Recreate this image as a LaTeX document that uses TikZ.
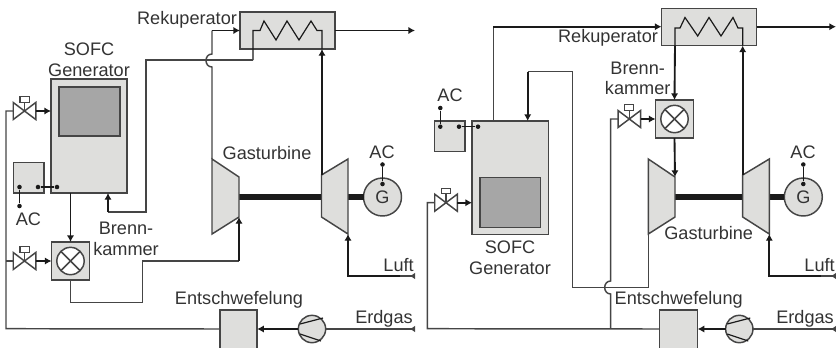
\documentclass[tikz,border=0pt]{standalone}
\usepackage{fontspec}
\setmainfont{Liberation Sans}
\usetikzlibrary{arrows.meta}

\definecolor{partgray}{HTML}{DEDEDC}
\definecolor{coregray}{HTML}{A6A6A6}
\definecolor{pipegray}{HTML}{454545}
\definecolor{flowblack}{HTML}{1A1A1A}
\definecolor{textgray}{HTML}{333333}

\tikzset{
    pipe/.style={draw=pipegray, line width=1.1pt},
    flow/.style={draw=flowblack, line width=1.4pt},
    tip/.style={-{Latex[length=5pt,width=5.5pt]}},
    endtip/.style={{Latex[reversed,length=4pt,width=5pt]}-},
    part/.style={draw=pipegray, fill=partgray, line width=1.1pt, inner sep=0pt, outer sep=0pt},
    core/.style={part, fill=coregray},
    dot/.style={circle, fill=flowblack, inner sep=0pt, minimum size=3.4pt},
    lbl/.style={text=textgray, inner sep=0pt, align=center, font=\fontsize{13.6}{15.5}\selectfont},
    valvebody/.style={inner sep=0pt, outer sep=0pt, minimum width=16.9pt, minimum height=12.75pt},
    valvecap/.style={part, fill=white, line width=0.8pt, minimum width=6.8pt, minimum height=4pt},
    wheel/.style={part, circle, minimum size=20.5pt},
    gen/.style={part, circle, minimum size=28.5pt, lbl, text=textgray},
}

% valve with its cap
\newcommand{\valve}[2]{
    \node[valvebody] (#1) at (#2) {};
    \draw[pipe, fill=white] (#1.north west) -- (#1.south east) -- (#1.north east) -- (#1.south west) -- cycle;
    \node[valvecap] (#1c) at ([yshift=8.6pt]#1.center) {};
    \draw[pipe, line width=0.8pt] (#1.center) -- (#1c.south);
}
% burner chamber: box with crossed circle
\newcommand{\burner}[2]{
    \node[part, minimum width=28.5pt, minimum height=28.5pt] (#1) at (#2) {};
    \node[part, fill=white, circle, minimum size=20.5pt] (#1o) at (#1.center) {};
    \draw[pipe] (#1o.north west) -- (#1o.south east);
    \draw[pipe] (#1o.north east) -- (#1o.south west);
}
% gas compressor wheel
\newcommand{\wheelc}[2]{
    \node[wheel] (#1) at (#2) {};
    \draw[flow, line width=0.9pt] ([shift={(-12,-5)}]#1.center) -- ([shift={(11,-11)}]#1.center);
    \draw[flow, line width=0.9pt] ([shift={(-12,5)}]#1.center) -- ([shift={(9,12)}]#1.center);
}

\begin{document}
\begin{tikzpicture}[x=0.75pt,y=-0.75pt]
    \clip (0,0) rectangle (836,347);

    %%% left plant %%%
    % Define boxes
    \node[part, minimum width=71.25pt, minimum height=27.75pt] (rekA) at (287.5,30.5) {};
    \node[part, minimum width=57pt, minimum height=85.5pt] (sofcA) at (89,136) {};
    \node[core, minimum width=45.75pt, minimum height=36.75pt] (coreA) at (89.5,111.5) {};
    \node[part, minimum width=23pt, minimum height=23pt] (acboxA) at (28.75,177.75) {};
    \node[part, minimum width=28pt, minimum height=37.5pt] (desA) at (238.5,335) {};
    \burner{burnA}{70.5,261}
    \valve{valveAa}{24.5,111}
    \valve{valveAb}{24.5,261}
    \wheelc{wheelA}{312,329}

    % Turbine, compressor and generator
    \coordinate (turbAa) at (212,159);
    \coordinate (turbAb) at (239,177);
    \coordinate (turbAc) at (239,217);
    \coordinate (turbAd) at (212,234);
    \coordinate (compAa) at (348,159);
    \coordinate (compAb) at (321.5,175);
    \coordinate (compAc) at (321.5,217);
    \coordinate (compAd) at (348,234);
    \node[gen] (genA) at (382.5,197) {G};
    \draw[flow, line width=4.5pt] (239,197) -- (321.5,197);
    \draw[flow, line width=4.5pt] (348,197) -- (genA.west);
    \draw[part] (turbAa) -- (turbAb) -- (turbAc) -- (turbAd) -- cycle;
    \draw[part] (compAa) -- (compAb) -- (compAc) -- (compAd) -- cycle;

    % Recuperator coil
    \coordinate (coilAa) at (253,60);
    \coordinate (coilAb) at (322,49);
    \draw[pipe, line width=0.9pt, draw=flowblack] (coilAa) -- (253,30.5) -- (260,30.5) -- (264,21) -- (276,40) -- (287,21)
        -- (299,40) -- (311,21) -- (317,30.5) -- (322,30.5) -- (coilAb);

    % Draw pipes
    \coordinate (jumpAa) at (212,67);
    \coordinate (jumpAb) at (212,54);
    \coordinate (jumpAc) at (212,30.5);
    \draw[pipe] (turbAa) -- (jumpAa) .. controls +(-8,0) and +(-8,0) .. (jumpAb) -- (jumpAc);
    \draw[flow, tip] (jumpAc) -- (rekA.west);
    \draw[pipe] (coilAa) -- (146,60) -- (146,212) -- (108,212);
    \draw[flow, tip] (108,212) -- (108,193);
    \coordinate (outA) at (415,30.5);
    \draw[flow, tip] (rekA.east) -- (outA);
    \draw[flow, tip] (322,175) -- (coilAb);
    \draw[flow, tip] (valveAa.east) -- (sofcA.west |- valveAa.east);
    \draw[flow, tip] (valveAb.east) -- (burnA.west);
    \draw[flow, tip] (sofcA.south -| burnA.north) -- (burnA.north);
    \draw[pipe] (burnA.south) -- (70.5,302.7) -- (142.5,302.7) -- (142.5,261) -- (239,261);
    \draw[flow, tip] (239,261) -- (turbAc);
    \draw[pipe] (valveAa.west) -- (6,111) -- (6,328.7) -- (desA.west |- wheelA.west);
    \draw[pipe] (valveAb.west) -- (6,261);
    \draw[flow, tip] (wheelA.west) -- (desA.east |- wheelA.west);
    \coordinate (gasA) at (415,329);
    \draw[pipe, endtip] (gasA) -- (wheelA.east);
    \coordinate (airA) at (415,276);
    \draw[pipe, endtip] (airA) -- (400,276);
    \draw[flow, tip] (400,276) -- (348,276) -- (compAd);

    % AC connections
    \node[dot] (dotAa) at (19.5,187) {};
    \node[dot] (dotAb) at (38,187) {};
    \node[dot] (dotAc) at (57,187) {};
    \node[dot] (dotAd) at (19.5,206) {};
    \node[dot] (dotAe) at (382.5,164.5) {};
    \node[dot] (dotAf) at (382.5,184) {};
    \draw[flow, line width=0.9pt] (dotAb) -- (dotAc);
    \draw[flow, line width=0.9pt] (dotAa) -- (dotAd);
    \draw[flow, line width=0.9pt] (dotAe) -- (dotAf);

    % Labels
    \node[lbl] (lblRekA) at (187,20) {Rekuperator};
    \node[lbl] (lblSofcA) at (89,59.5) {SOFC\\Generator};
    \node[lbl] (lblTurbA) at (267,153) {Gasturbine};
    \node[lbl] (lblAcA) at (382,152) {AC};
    \node[lbl] (lblAcB) at (28.5,219) {AC};
    \node[lbl] (lblBurnA) at (126,239) {Brenn-\\kammer};
    \node[lbl] (lblDesA) at (239,300) {Entschwefelung};
    \node[lbl, anchor=east] (lblAirA) at (414,265) {Luft};
    \node[lbl, anchor=east] (lblGasA) at (413,318.5) {Erdgas};

    %%% right plant %%%
    % Define boxes
    \node[part, minimum width=71.25pt, minimum height=28pt] (rekB) at (709,27) {};
    \node[part, minimum width=57.2pt, minimum height=85pt] (sofcB) at (510.2,177.6) {};
    \node[core, minimum width=45.5pt, minimum height=37.2pt] (coreB) at (510.3,202.5) {};
    \node[part, minimum width=23pt, minimum height=23pt] (acboxB) at (449.8,136.3) {};
    \node[part, minimum width=28.5pt, minimum height=37.5pt] (desB) at (678.7,335) {};
    \burner{burnB}{674.5,119}
    \valve{valveBa}{446,202.7}
    \valve{valveBb}{629.3,119}
    \wheelc{wheelB}{739.3,329}

    % Turbine, compressor and generator
    \coordinate (turbBa) at (648.3,159);
    \coordinate (turbBb) at (675,177);
    \coordinate (turbBc) at (675,217);
    \coordinate (turbBd) at (648.3,234);
    \coordinate (compBa) at (769.3,159);
    \coordinate (compBb) at (742.7,175);
    \coordinate (compBc) at (742.7,217);
    \coordinate (compBd) at (769.3,234);
    \node[gen] (genB) at (803.3,197) {G};
    \draw[flow, line width=4.5pt] (675,197) -- (742.7,197);
    \draw[flow, line width=4.5pt] (769.3,197) -- (genB.west);
    \draw[part] (turbBa) -- (turbBb) -- (turbBc) -- (turbBd) -- cycle;
    \draw[part] (compBa) -- (compBb) -- (compBc) -- (compBd) -- cycle;

    % Recuperator coil
    \coordinate (coilBa) at (675,45.5);
    \coordinate (coilBb) at (742.7,45.5);
    \draw[pipe, line width=0.9pt, draw=flowblack] (coilBa) -- (675,28) -- (680,28) -- (685,17.5) -- (697.7,36) -- (709,17.5)
        -- (721,36) -- (733,17.5) -- (738,28) -- (742.7,28) -- (coilBb);

    % Draw pipes
    \coordinate (topB) at (493.3,26.7);
    \draw[pipe] (493.3,121) -- (topB);
    \draw[flow, tip] (topB) -- (rekB.west |- topB);
    \coordinate (outB) at (836,26.7);
    \draw[flow, tip] (rekB.east |- outB) -- (outB);
    \draw[flow, tip] (coilBa) -- (burnB.north);
    \draw[flow, tip] (burnB.south) -- (675,177);
    \draw[flow, tip] (742.7,175) -- (coilBb);
    \draw[flow, tip] (valveBb.east) -- (burnB.west);
    \draw[flow, tip] (valveBa.east) -- (sofcB.west |- valveBa.east);
    \coordinate (retB) at (527.7,71.7);
    \draw[flow, tip] (retB) -- (527.7,121);
    \draw[pipe] (retB) -- (572.7,71.7) -- (572.7,287.7) -- (648.3,287.7) -- (turbBd);
    \coordinate (jumpBa) at (610.7,294);
    \coordinate (jumpBb) at (610.7,281);
    \draw[pipe] (valveBb.west) -- (610.7,119) -- (jumpBb) .. controls +(-8,0) and +(-8,0) .. (jumpBa) -- (610.7,328.7);
    \draw[pipe] (valveBa.west) -- (427.3,202.7) -- (427.3,328.7) -- (desB.west |- wheelB.west);
    \draw[flow, tip] (wheelB.west) -- (desB.east |- wheelB.west);
    \coordinate (gasB) at (836,329);
    \draw[pipe, endtip] (gasB) -- (wheelB.east);
    \coordinate (airB) at (836,276);
    \draw[pipe, endtip] (airB) -- (821,276);
    \draw[flow, tip] (821,276) -- (769.3,276) -- (compBd);

    % AC connections
    \node[dot] (dotBa) at (440.3,126.7) {};
    \node[dot] (dotBb) at (459,126.7) {};
    \node[dot] (dotBc) at (478,126.7) {};
    \node[dot] (dotBd) at (440.3,108) {};
    \node[dot] (dotBe) at (803.3,164.5) {};
    \node[dot] (dotBf) at (803.3,184) {};
    \draw[flow, line width=0.9pt] (dotBb) -- (dotBc);
    \draw[flow, line width=0.9pt] (dotBa) -- (dotBd);
    \draw[flow, line width=0.9pt] (dotBe) -- (dotBf);

    % Labels
    \node[lbl] (lblRekB) at (608,38) {Rekuperator};
    \node[lbl] (lblSofcB) at (510,257.5) {SOFC\\Generator};
    \node[lbl] (lblTurbB) at (708.7,233) {Gasturbine};
    \node[lbl] (lblAcC) at (803,152) {AC};
    \node[lbl] (lblAcD) at (450,95) {AC};
    \node[lbl] (lblBurnB) at (637.7,78.5) {Brenn-\\kammer};
    \node[lbl] (lblDesB) at (678.7,300) {Entschwefelung};
    \node[lbl, anchor=east] (lblAirB) at (835,265) {Luft};
    \node[lbl, anchor=east] (lblGasB) at (834,318.5) {Erdgas};
\end{tikzpicture}
\end{document}
